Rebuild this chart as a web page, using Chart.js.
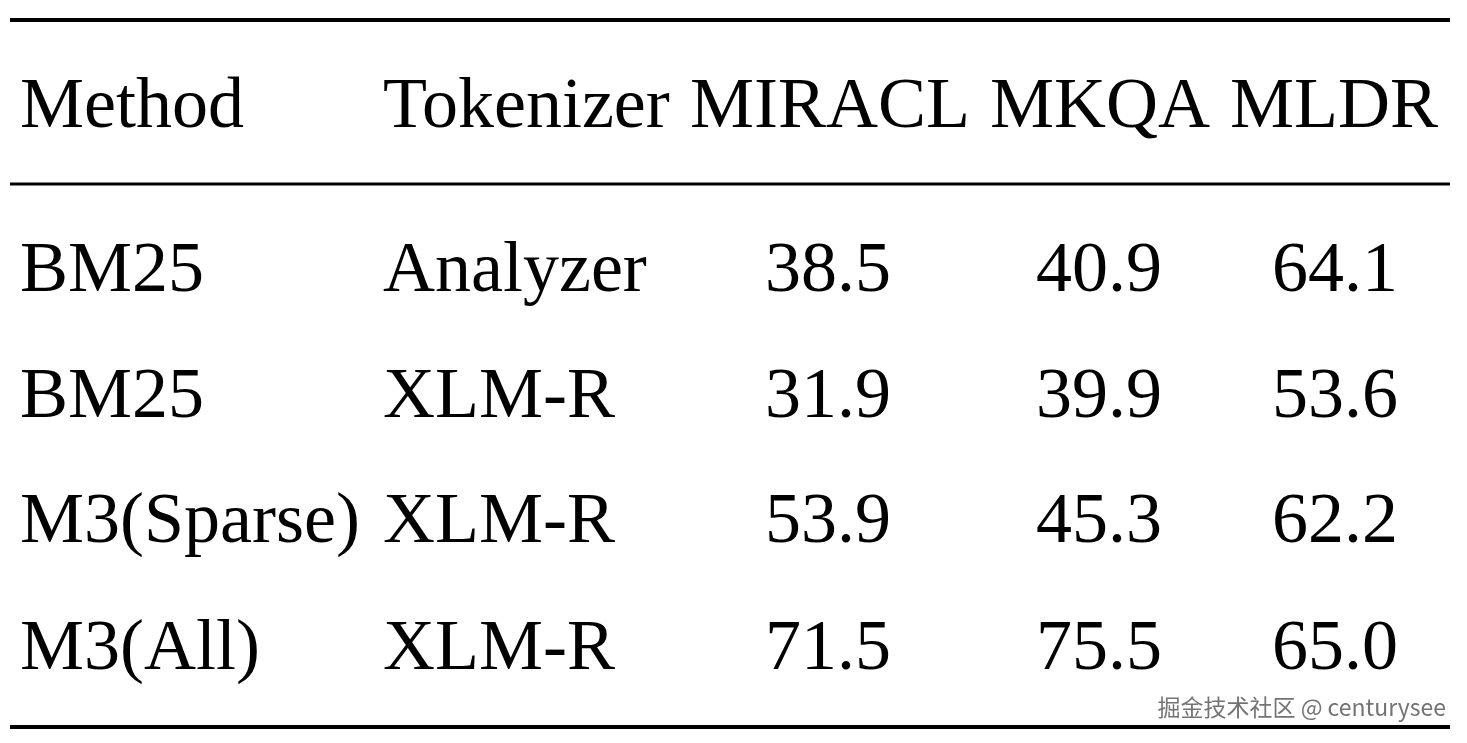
<!DOCTYPE html>
<html>
<head>
<meta charset="utf-8">
<script src="https://cdn.jsdelivr.net/npm/chart.js@4.4.0/dist/chart.umd.min.js"></script>
<style>
  html, body { margin: 0; padding: 0; background: #fff; }
  #wrap { width: 1467px; height: 743px; }
</style>
</head>
<body>
<div id="wrap"><canvas id="tbl"></canvas></div>
<script>
// table content
const headers   = ['Method', 'Tokenizer', 'MIRACL', 'MKQA', 'MLDR'];
const methods   = ['BM25', 'BM25', 'M3(Sparse)', 'M3(All)'];
const tokenizers = ['Analyzer', 'XLM-R', 'XLM-R', 'XLM-R'];
const miracl    = ['38.5', '31.9', '53.9', '71.5'];
const mkqa      = ['40.9', '39.9', '45.3', '75.5'];
const mldr      = ['64.1', '53.6', '62.2', '65.0'];

// layout in scale units (x: 0..1467, y: 0..743, top down)
const headerX = [20, 383, 690, 990, 1230];
const colX    = [20, 383, 828, 1099, 1335];
const headerY = 108;
const rowY    = [272, 398, 523, 650];
const rules   = [{ y: 20, w: 4 }, { y: 184, w: 3 }, { y: 727, w: 4 }];

const tablePlugin = {
  id: 'tablePlugin',
  afterDraw(chart) {
    const { ctx, scales: { x, y } } = chart;
    ctx.save();
    ctx.fillStyle = '#000';
    ctx.strokeStyle = '#000';
    rules.forEach(r => {
      ctx.lineWidth = r.w;
      ctx.beginPath();
      ctx.moveTo(x.getPixelForValue(10), y.getPixelForValue(r.y));
      ctx.lineTo(x.getPixelForValue(1450), y.getPixelForValue(r.y));
      ctx.stroke();
    });
    ctx.font = '72px "Liberation Serif", "Times New Roman", serif';
    ctx.textBaseline = 'middle';
    ctx.textAlign = 'left';
    headers.forEach((h, i) => ctx.fillText(h, x.getPixelForValue(headerX[i]), y.getPixelForValue(headerY)));
    const cols = [methods, tokenizers, miracl, mkqa, mldr];
    cols.forEach((col, c) => {
      ctx.textAlign = c < 2 ? 'left' : 'center';
      col.forEach((v, r) => ctx.fillText(v, x.getPixelForValue(colX[c]), y.getPixelForValue(rowY[r])));
    });
    // watermark
    ctx.font = '23px "Noto Sans CJK SC", sans-serif';
    ctx.textAlign = 'right';
    ctx.fillStyle = 'rgba(90,90,90,0.85)';
    ctx.fillText('掘金技术社区 @ centurysee', x.getPixelForValue(1446), y.getPixelForValue(707));
    ctx.restore();
  }
};

new Chart(document.getElementById('tbl').getContext('2d'), {
  type: 'scatter',
  data: { datasets: [{ data: [] }] },
  options: {
    responsive: true, maintainAspectRatio: false, animation: false,
    layout: { padding: 0 },
    plugins: { legend: { display: false }, tooltip: { enabled: false } },
    scales: {
      x: { type: 'linear', min: 0, max: 1467, display: false },
      y: { type: 'linear', min: 0, max: 743, reverse: true, display: false }
    }
  },
  plugins: [tablePlugin]
});
</script>
</body>
</html>
